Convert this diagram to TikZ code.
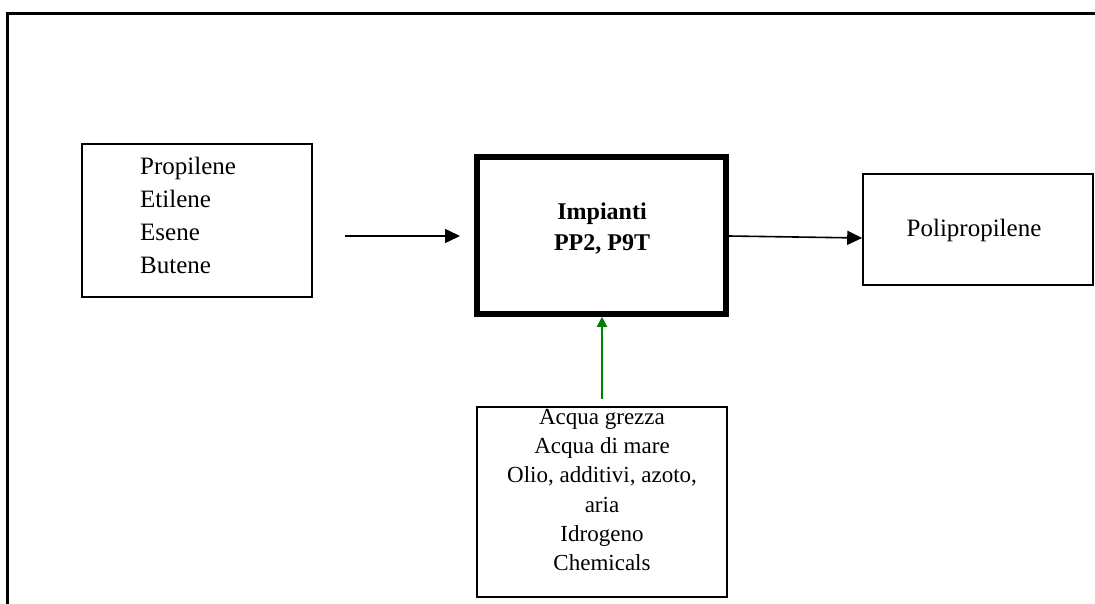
\documentclass[tikz,border=0pt]{standalone}
\usepackage{fontspec}
\setmainfont{Liberation Serif}
\usetikzlibrary{arrows.meta}
\definecolor{flowgreen}{RGB}{0,128,0}
\begin{document}
\begin{tikzpicture}[x=1pt,y=-1pt,
  thinbox/.style={draw=black,line width=1.6pt,minimum width=#1,inner sep=0pt},
  label/.style={inner sep=0pt,font=\fontsize{25}{33}\selectfont},
  flow/.style={line width=1.6pt,-{Triangle[length=15pt,width=14pt]}},
  gflow/.style={draw=flowgreen,line width=2pt,-{Triangle[length=10pt,width=10pt]}}]
\useasboundingbox (0,0) rectangle (1095,604);
% outer frame
\draw[line width=3pt] (7,604) -- (7,14) -- (1095,14);
% boxes
\node[thinbox=230pt,minimum height=153pt] (src) at (197,220.5) {};
\node[label,align=left,anchor=west] (srctxt) at (140,215) {Propilene\\Etilene\\Esene\\Butene};
\node[draw=black,line width=5.5pt,minimum width=249pt,minimum height=157pt,inner sep=0pt] (plant) at (601.5,235.5) {};
\node[inner sep=0pt,align=center,font=\fontsize{24}{31}\selectfont\bfseries] (planttxt) at (602,228.5) {Impianti\\PP2, P9T};
\node[thinbox=230pt,minimum height=111pt] (poly) at (978,229.5) {};
\node[label] (polytxt) at (974,230) {Polipropilene};
\node[thinbox=250pt,minimum height=190pt] (util) at (602,502) {};
\node[inner sep=0pt,align=center,anchor=north,font=\fontsize{23}{29.3}\selectfont] (utiltxt) at (602,409) {Acqua grezza\\Acqua di mare\\Olio, additivi, azoto,\\aria\\Idrogeno\\Chemicals};
% connectors
\coordinate (in1) at (345,236);
\coordinate (in1e) at (460,236);
\draw[flow] (in1) -- (in1e);
\draw[flow] (plant.east |- 0,236) -- (poly.west |- 0,238);
\coordinate (g1) at (602,399);
\draw[gflow] (g1) -- (g1 |- plant.south);
\end{tikzpicture}
\end{document}
